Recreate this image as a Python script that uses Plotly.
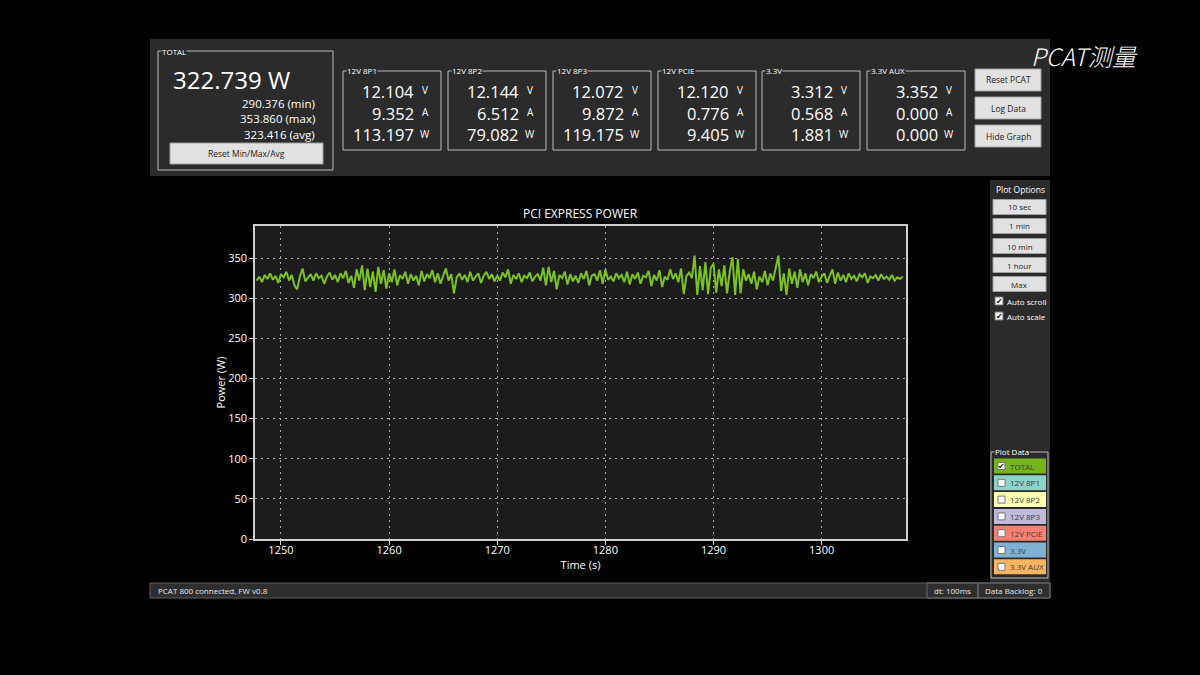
import plotly.graph_objects as go

# ---------------- data ----------------
T0 = 1247.75      # first sample time (s)
DT = 0.25         # sample spacing (s)
POWER_W = [
    322,
    327, 320, 329, 324,  331, 323, 328, 319,  330, 326, 333, 322,  329, 316, 311, 327,
    337, 321, 326, 330,  322, 331, 325, 328,  318, 327, 332, 323,  329, 320, 331, 325,
    334, 319, 328, 313,  336, 322, 341, 310,  337, 314, 333, 308,  339, 318, 335, 312,
    331, 320, 336, 316,  329, 324, 333, 318,  330, 322, 328, 316,  334, 321, 330, 325,
    335, 320, 331, 318,  328, 337, 322, 330,  306, 326, 331, 323,  329, 320, 333, 322,
    327, 331, 319, 328,  333, 324, 330, 321,  328, 322, 332, 326,  336, 318, 329, 324,
    331, 320, 328, 325,  332, 321, 327, 330,  322, 338, 316, 339,  320, 334, 311, 329,
    325, 333, 317, 330,  321, 328, 319, 331,  324, 334, 316, 328,  330, 322, 335, 318,
    336, 323, 327, 321,  331, 325, 329, 320,  333, 317, 330, 324,  332, 318, 328, 326,
    334, 315, 329, 322,  335, 314, 327, 323,  336, 324, 331, 320,  337, 305, 328, 332,
    325, 353, 304, 340,  310, 345, 305, 338,  343, 307, 336, 315,  341, 306, 333, 351,
    304, 349, 306, 336,  322, 330, 318, 333,  311, 327, 320, 334,  316, 331, 322, 337,
    353, 309, 331, 304,  337, 318, 333, 313,  336, 320, 331, 316,  330, 325, 333, 320,
    327, 331, 319, 328,  336, 318, 332, 322,  329, 320, 331, 324,  328, 321, 330, 326,
    331, 319, 327, 325,  329, 322, 330, 324,  327, 323, 329, 322,  326, 324, 327,
]
TIME_S = [T0 + i * DT for i in range(len(POWER_W))]

X_RANGE = [1247.6, 1307.8]
Y_RANGE = [0, 390]
X_TICKS = [1250, 1260, 1270, 1280, 1290, 1300]
Y_TICKS = [0, 50, 100, 150, 200, 250, 300, 350]

TOTAL_W = "322.739 W"
TOTAL_STATS = ["290.376 (min)", "353.860 (max)", "323.416 (avg)"]

CHANNELS = ["12V 8P1", "12V 8P2", "12V 8P3", "12V PCIE", "3.3V", "3.3V AUX"]
VOLTS = ["12.104", "12.144", "12.072", "12.120", "3.312", "3.352"]
AMPS = ["9.352", "6.512", "9.872", "0.776", "0.568", "0.000"]
WATTS = ["113.197", "79.082", "119.175", "9.405", "1.881", "0.000"]
UNITS = ["V", "A", "W"]

TOP_BUTTONS = ["Reset PCAT", "Log Data", "Hide Graph"]
RANGE_BUTTONS = ["10 sec", "1 min", "10 min", "1 hour", "Max"]
CHECK_OPTIONS = ["Auto scroll", "Auto scale"]
PLOT_DATA = ["TOTAL", "12V 8P1", "12V 8P2", "12V 8P3", "12V PCIE", "3.3V", "3.3V AUX"]
PLOT_DATA_COLORS = ["#74b51c", "#8dd3c7", "#ffffb3", "#bebada", "#fb8072", "#80b1d3", "#fdb462"]
PLOT_DATA_CHECKED = [True, False, False, False, False, False, False]

STATUS_TEXT = ["PCAT 800 connected, FW v0.8", "dt: 100ms", "Data Backlog: 0"]

# ---------------- helpers ----------------
W, H = 1200, 675
UI = "Open Sans"
PANEL = "#2b2b2b"


def px(x):
    return x / W


def py(y):
    return 1 - y / H


shapes = []
annos = []


def rect(x0, y0, x1, y1, fill=None, line="#b5b5b5", lw=1):
    shapes.append(dict(type="rect", xref="paper", yref="paper",
                       x0=px(x0), x1=px(x1), y0=py(y1), y1=py(y0),
                       fillcolor=fill if fill else "rgba(0,0,0,0)",
                       line=dict(color=line, width=lw), layer="below"))


def text(x, y, s, size=10, color="#ffffff", xanchor="center", yanchor="middle",
         bg=None, family=UI, **kw):
    d = dict(xref="paper", yref="paper", x=px(x), y=py(y), text=s, showarrow=False,
             xanchor=xanchor, yanchor=yanchor,
             font=dict(size=size, color=color, family=family, **kw),
             borderpad=0)
    if bg:
        d["bgcolor"] = bg
    annos.append(d)


def groupbox(x0, y0, x1, y1, title, bg=PANEL, line="#bdbdbd"):
    rect(x0, y0, x1, y1, None, line, 1)
    text(x0 + 3, y0, title, size=8, xanchor="left", bg=bg)


def button(x0, y0, x1, y1, label, size=8.5):
    rect(x0, y0, x1, y1, "#e1e1e1", "#a0a0a0", 1)
    text((x0 + x1) / 2, (y0 + y1) / 2, label, size=size, color="#222222")


def checkbox(x0, yc, checked, size=8):
    rect(x0, yc - size / 2, x0 + size, yc + size / 2, "#ffffff", "#777777", 1)
    if checked:
        text(x0 + size / 2, yc, "✔", size=8, color="#111111", family="DejaVu Sans")


# ---------------- window panels ----------------
rect(150, 39, 1050, 176, PANEL, PANEL, 0)          # top panel
rect(990, 180, 1050, 583, PANEL, PANEL, 0)         # right panel
rect(150, 583, 1050, 598, "#2e2e2e", "#5c5c5c", 1)  # status bar
rect(927, 583, 978, 598, None, "#6a6a6a", 1)
rect(978, 583, 1050, 598, None, "#6a6a6a", 1)
text(157, 590.5, STATUS_TEXT[0], size=8, xanchor="left", color="#e8e8e8")
text(952.5, 590.5, STATUS_TEXT[1], size=8, color="#e8e8e8")
text(1014, 590.5, STATUS_TEXT[2], size=8, color="#e8e8e8")

# TOTAL block
groupbox(158, 51, 333, 170, "TOTAL")
text(231, 79, TOTAL_W, size=24)
for i, s in enumerate(TOTAL_STATS):
    text(316, 104 + i * 15, s, size=11.5, xanchor="right")
button(170, 143, 323, 164, "Reset Min/Max/Avg")

# Channel blocks
CH_X = [343, 448, 553, 658, 762, 867]
for i, name in enumerate(CHANNELS):
    x0 = CH_X[i]
    groupbox(x0, 71, x0 + 98, 150, name)
    for r, (val, unit) in enumerate(zip([VOLTS[i], AMPS[i], WATTS[i]], UNITS)):
        yc = 91 + r * 22
        text(x0 + 72, yc, val, size=16.5, xanchor="right")
        text(x0 + 82, yc - 1, unit, size=10)

# Top-right buttons
for i, lab in enumerate(TOP_BUTTONS):
    button(975, 69 + i * 28, 1041, 91 + i * 28, lab)

# Title text
text(1084, 55, "PCAT测量", size=24, family="Noto Sans CJK SC", style="italic", weight=300)

# Plot options
text(1020, 190, "Plot Options", size=8.5)
for i, lab in enumerate(RANGE_BUTTONS):
    yc = [207, 226, 246, 265, 284][i]
    button(993, yc - 7.5, 1046, yc + 7.5, lab, size=8)
for i, lab in enumerate(CHECK_OPTIONS):
    yc = 301 + i * 15
    checkbox(995, yc, True)
    text(1006, yc, lab, size=8, xanchor="left")

# Plot data legend
groupbox(991, 452, 1048, 578, "Plot Data")
for i, lab in enumerate(PLOT_DATA):
    yc = 466 + i * 16.8
    rect(994, yc - 7.5, 1046, yc + 7.5, PLOT_DATA_COLORS[i], PLOT_DATA_COLORS[i], 0)
    checkbox(998, yc, PLOT_DATA_CHECKED[i], size=7)
    text(1009, yc, lab, size=8, xanchor="left", color="#3c3c3c")

# ---------------- chart ----------------
fig = go.Figure(go.Scatter(x=TIME_S, y=POWER_W, mode="lines",
                           line=dict(color="#7cc31a", width=2),
                           hoverinfo="skip"))

axis_common = dict(showline=True, mirror=True, linecolor="#cfcfcf", linewidth=1.5,
                   ticks="outside", ticklen=4, tickcolor="#cfcfcf", tickwidth=1,
                   showgrid=True, gridcolor="#ababab", gridwidth=1, griddash="2px,4px",
                   zeroline=False, tickfont=dict(size=11, color="#ffffff", family=UI),
                   fixedrange=True, automargin=False)

fig.update_layout(
    width=W, height=H, autosize=False,
    margin=dict(l=0, r=0, t=0, b=0, pad=0, autoexpand=False),
    paper_bgcolor="#000000", plot_bgcolor="#1c1c1c",
    showlegend=False,
    font=dict(family=UI, color="#ffffff"),
    title=dict(text="PCI EXPRESS POWER", x=px(580), xanchor="center",
               y=py(214), yanchor="middle", automargin=False,
               font=dict(size=12, color="#ffffff", family=UI)),
    xaxis=dict(domain=[px(255), px(906)], range=X_RANGE, tickvals=X_TICKS,
               ticklabelstandoff=-4,
               title=dict(text="Time (s)", standoff=1, font=dict(size=11, color="#ffffff")),
               **axis_common),
    yaxis=dict(domain=[py(539), py(226)], range=Y_RANGE, tickvals=Y_TICKS,
               title=dict(text="Power (W)", standoff=0, font=dict(size=11, color="#ffffff")),
               **axis_common),
    shapes=shapes,
    annotations=annos,
)

POST = (
    "document.documentElement.style.margin='0';"
    "document.documentElement.style.overflow='hidden';"
    "document.body.style.margin='0';"
    "document.body.style.overflow='hidden';"
    "document.body.style.background='#000';"
)

fig.write_html("out.html", config={"displayModeBar": False}, post_script=POST)
